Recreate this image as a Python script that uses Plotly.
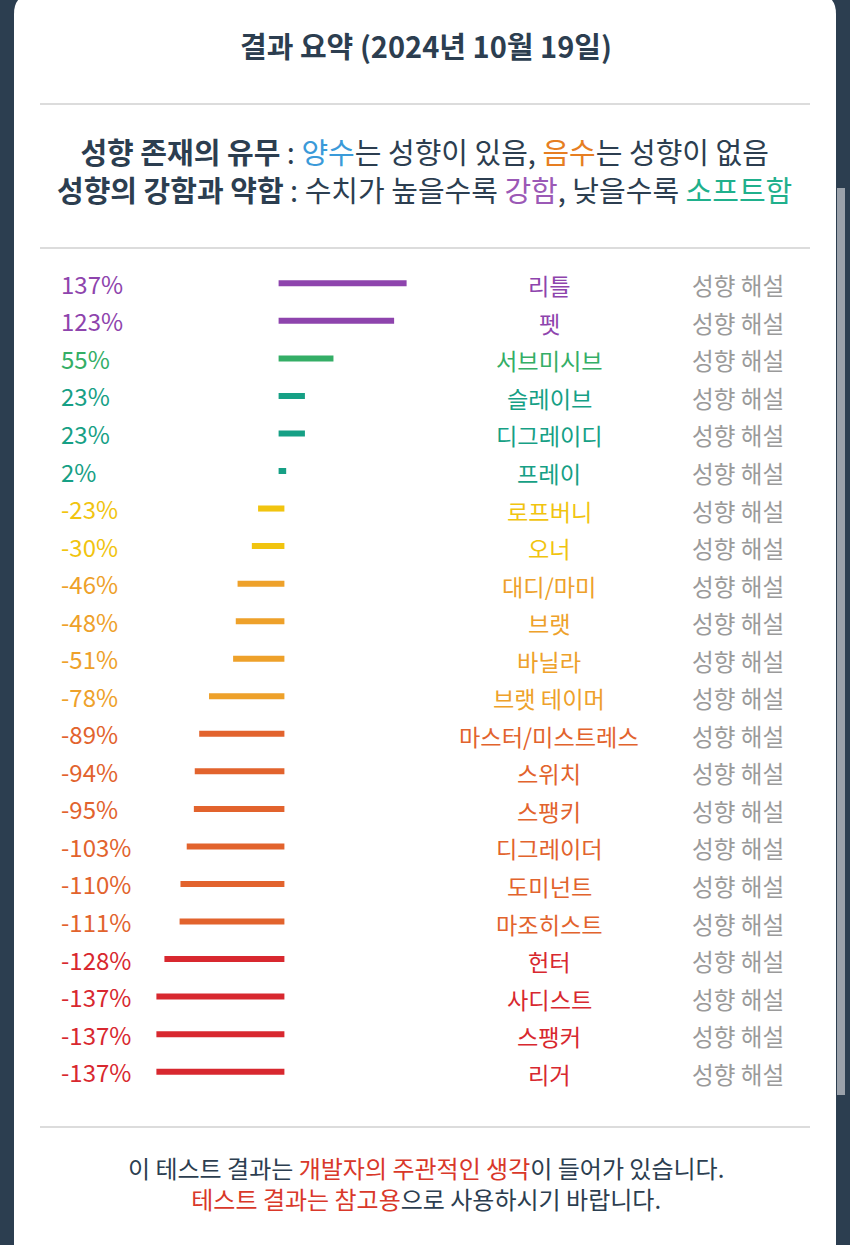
import plotly.graph_objects as go

# ---------------- data ----------------
names = ["리틀", "펫", "서브미시브", "슬레이브", "디그레이디", "프레이", "로프버니", "오너",
         "대디/마미", "브랫", "바닐라", "브랫 테이머", "마스터/미스트레스", "스위치", "스팽키",
         "디그레이더", "도미넌트", "마조히스트", "헌터", "사디스트", "스팽커", "리거"]
values = [137, 123, 55, 23, 23, 2, -23, -30, -46, -48, -51, -78, -89, -94, -95,
          -103, -110, -111, -128, -137, -137, -137]
link_label = "성향 해설"
title_text = "결과 요약 (2024년 10월 19일)"

# ---------------- style ----------------
W, H = 850, 1245
NAVY = "#2c3e50"
DARK = "#2c3e50"
FONT = "Noto Sans CJK KR"
PURPLE = "#8e44ad"
GREEN = "#34ae66"
TEAL = "#16a085"
YELLOW = "#f1c40f"
ORANGE = "#eea12a"
DORANGE = "#e2632d"
RED = "#d8282f"
GRAY = "#9a9a9a"


def tier_color(v):
    if v >= 100:
        return PURPLE
    if v >= 50:
        return GREEN
    if v >= 0:
        return TEAL
    if v > -40:
        return YELLOW
    if v > -80:
        return ORANGE
    if v > -120:
        return DORANGE
    return RED


def px(x):
    return x / W


def py(y):
    return 1 - y / H


ROW_TOP, ROW_BOT = 283.3, 1071.7
n = len(values)
step = (ROW_BOT - ROW_TOP) / (n - 1)
PX_PER_UNIT = 0.892
ZERO_PX = 281.5
XDOM = (100, 500)
x_lo = -(ZERO_PX - XDOM[0]) / PX_PER_UNIT
x_hi = x_lo + (XDOM[1] - XDOM[0]) / PX_PER_UNIT
CAP = 2.9 / PX_PER_UNIT  # square line cap extension
BAR_W = 6 / step

rows = list(range(n))
colors = [tier_color(v) for v in values]
sign = [1 if v >= 0 else -1 for v in values]
lengths = [v + 2 * CAP * s for v, s in zip(values, sign)]
bases = [-CAP * s for s in sign]

fig = go.Figure()
fig.add_trace(go.Bar(orientation="h", y=rows, x=lengths, base=bases, width=BAR_W,
                     marker=dict(color=colors, line=dict(width=0)), hoverinfo="skip"))

annotations = []
for i, (nm, v, c) in enumerate(zip(names, values, colors)):
    annotations.append(dict(x=px(59), y=i, xref="paper", yref="y", text=f"{v}%",
                            xanchor="left", yanchor="middle", showarrow=False,
                            font=dict(family=FONT, size=24, color=c)))
    annotations.append(dict(x=px(549), y=i, xref="paper", yref="y", text=nm,
                            xanchor="center", yanchor="middle", showarrow=False, yshift=-2,
                            font=dict(family=FONT, size=23.2, color=c)))
    annotations.append(dict(x=px(737.5), y=i, xref="paper", yref="y", text=link_label,
                            xanchor="center", yanchor="middle", showarrow=False, yshift=-2,
                            font=dict(family=FONT, size=23.6, color=GRAY)))

annotations.append(dict(x=px(426), y=py(45), xref="paper", yref="paper",
                        text=f"<b>{title_text}</b>", showarrow=False,
                        xanchor="center", yanchor="middle",
                        font=dict(family=FONT, size=29, color=DARK)))
annotations.append(dict(x=px(424.5), y=py(170), xref="paper", yref="paper",
                        text=("<b>성향 존재의 유무</b> : <span style='color:#3a9ad9'>양수</span>는 성향이 있음, "
                              "<span style='color:#e67e22'>음수</span>는 성향이 없음<br>"
                              "<b>성향의 강함과 약함</b> : 수치가 높을수록 <span style='color:#9b59b6'>강함</span>, "
                              "낮을수록 <span style='color:#1fb08c'>소프트함</span>"),
                        showarrow=False, xanchor="center", yanchor="middle", align="center",
                        font=dict(family=FONT, size=29, color=DARK)))
annotations.append(dict(x=px(426), y=py(1183), xref="paper", yref="paper",
                        text=("이 테스트 결과는 <span style='color:#d9382a'>개발자의 주관적인 생각</span>이 들어가 있습니다.<br>"
                              "<span style='color:#d9382a'>테스트 결과는 참고용</span>으로 사용하시기 바랍니다."),
                        showarrow=False, xanchor="center", yanchor="middle", align="center",
                        font=dict(family=FONT, size=24, color=DARK)))

# card with rounded top corners
L, R, T, B, RAD = 14, 836, -6, 1260, 20
card_path = (f"M {px(L)} {py(B)} L {px(L)} {py(T + RAD)} Q {px(L)} {py(T)} {px(L + RAD)} {py(T)} "
             f"L {px(R - RAD)} {py(T)} Q {px(R)} {py(T)} {px(R)} {py(T + RAD)} L {px(R)} {py(B)} Z")
shapes = [dict(type="path", xref="paper", yref="paper", path=card_path,
               fillcolor="white", line=dict(width=0), layer="below")]
for yl in (104, 248, 1127):
    shapes.append(dict(type="line", xref="paper", yref="paper", x0=px(40), x1=px(810),
                       y0=py(yl), y1=py(yl), line=dict(color="#dcdcdc", width=2), layer="below"))
shapes.append(dict(type="rect", xref="paper", yref="paper", x0=px(837), x1=px(845),
                   y0=py(1095), y1=py(188), fillcolor="#9aa1aa", line=dict(width=0), layer="below"))

fig.update_layout(
    width=W, height=H, margin=dict(l=0, r=0, t=0, b=0),
    paper_bgcolor=NAVY, plot_bgcolor="rgba(0,0,0,0)", showlegend=False,
    xaxis=dict(domain=[px(XDOM[0]), px(XDOM[1])], range=[x_lo, x_hi], visible=False, fixedrange=True),
    yaxis=dict(domain=[py(ROW_BOT + step / 2), py(ROW_TOP - step / 2)], range=[n - 0.5, -0.5],
               visible=False, fixedrange=True),
    annotations=annotations, shapes=shapes,
)

fig.write_html("out.html", config={"displayModeBar": False})
